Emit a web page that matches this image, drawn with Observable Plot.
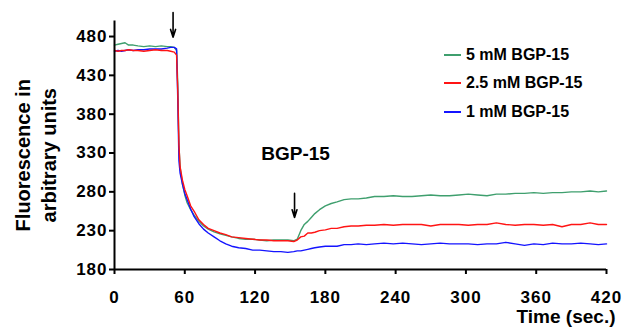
<!DOCTYPE html>
<html><head><meta charset="utf-8">
<script src="https://cdn.jsdelivr.net/npm/d3@7"></script>
<script src="https://cdn.jsdelivr.net/npm/@observablehq/plot@0.6"></script>
<style>
body{margin:0;background:#fff;}
#wrap{position:relative;width:625px;height:331px;font-family:"Liberation Sans",Arial,sans-serif;color:#000;}
.leg{position:absolute;left:444px;font-weight:bold;font-size:16px;display:flex;align-items:center;height:20px;white-space:nowrap;}
.leg .sw{display:inline-block;width:17px;height:2px;margin-right:5px;}
svg g[aria-label="y-axis tick label"] text, svg g[aria-label="x-axis tick label"] text{letter-spacing:1px;}
</style></head><body><div id="wrap"></div>
<script>
const time = [0,3,6,9,12,16,20,25,30,35,40,45,48,51,53,54,55,56,58,60,62,65,68,72,76,80,85,90,95,100,106,112,118,124,130,136,142,148,153,156,159,162,165,168,171,175,180,185,190,196,202,208,215,222,230,238,246,254,262,270,278,286,294,302,310,318,326,334,342,350,358,366,374,382,390,398,406,413,420];
const green = [469,470,471,472,469,469,468,467,468,467,468,467,467,466,462,420,340,312,290,276,266,257,250,242,236,232,228.5,226,224,222,220,219,219,218,217,218,218,218,217,219,230,238,242,247,252,257,262,265,267,270,271,271,272,274,274,275,274,274,275,276,275,275,276,277,276,275,277,277,278,278,279,278,279,279,280,280,281,280,281];
const red = [462,461,462,462,463,462,462,461,462,463,462,462,461,460,456,410,340,312,295,283,275,262,255,244,238,233,230,227,225,222,221,220,219,218,218,217,217,217,216,218,222,223,227,227,228,230,231,233,233,235,236,236,237,237,238,237,238,238,238,236,238,238,238,237,238,238,240,238,237,238,238,237,238,235,238,238,240,238,238];
const blue = [461,462,461,462,463,462,463,463,464,464,464,465,466,466,464,400,320,304,290,278,270,258,248,239,232,227,222,217,213,210,208,207,205,205,204,203,203,202,203,204,204,205,206,207,208,209,210,210,210,212,212,213,212,213,214,213,214,213,212,213,214,213,213,213,212,213,213,215,213,211,213,212,214,213,213,214,213,212,213];
const seriesNames = ["5 mM BGP-15","2.5 mM BGP-15","1 mM BGP-15"];
const seriesColors = ["#3f9f6e","#ff1414","#1414ff"];
const xTicks = [0,60,120,180,240,300,360,420];
const yTicks = [180,230,280,330,380,430,480];
const arrowTime = [50,153.7];
const arrowFrom = [511,278];
const arrowTo = [479,247];
const bgpLabel = "BGP-15", bgpLabelT = 154.6, bgpLabelV = 329;
const xLabel = "Time (sec.)";
const yLabel = "Fluorescence in\narbitrary units";

const rows = [];
const drawOrder = [[0, green],[2, blue],[1, red]];
for (const [k, vals] of drawOrder) time.forEach((t,i)=>rows.push({t, v: vals[i], s: seriesNames[k]}));
const arrows = arrowTime.map((t,i)=>({t, from: arrowFrom[i], to: arrowTo[i]}));
const ff = '"Liberation Sans", Arial, sans-serif';

const chart = Plot.plot({
  width: 625, height: 331,
  marginLeft: 114, marginRight: 19, marginTop: 20.5, marginBottom: 62,
  x: {domain: [0,420]},
  y: {domain: [180,500]},
  color: {domain: seriesNames, range: seriesColors},
  style: {fontFamily: ff, fontWeight: "bold", background: "white", color: "black"},
  marks: [
    Plot.line(rows, {x: "t", y: "v", z: "s", stroke: "s", strokeWidth: 1.4}),
    Plot.ruleX([0], {strokeWidth: 2}),
    Plot.ruleY([180], {strokeWidth: 2}),
    Plot.axisX({ticks: xTicks, tickSize: 5, tickPadding: 16, strokeWidth: 2, fontSize: 17, fontWeight: "bold", label: null}),
    Plot.axisY({ticks: yTicks, tickSize: 5, tickPadding: 2, strokeWidth: 2, fontSize: 17, fontWeight: "bold", label: null}),
    Plot.arrow(arrows, {x1: "t", x2: "t", y1: "from", y2: "to", headLength: 9, headAngle: 35, strokeWidth: 1.6, stroke: "black", clip: false}),
    Plot.text([bgpLabel], {x: bgpLabelT, y: bgpLabelV, fontSize: 19, fontWeight: "bold", fill: "black"}),
    Plot.text([xLabel], {frameAnchor: "bottom-right", dx: 9, dy: 53, textAnchor: "end", fontSize: 19, fontWeight: "bold", fill: "black"}),
    Plot.text([yLabel], {frameAnchor: "left", textAnchor: "middle", lineAnchor: "middle", rotate: -90, dx: -80, dy: 10, fontSize: 20, lineHeight: 1.3, fontWeight: "bold", fill: "black"})
  ]
});
const wrap = document.getElementById("wrap");
wrap.appendChild(chart);
const legTops = [45, 73, 102];
seriesNames.forEach((n,i)=>{
  const d = document.createElement("div");
  d.className = "leg";
  d.style.top = legTops[i] + "px";
  d.innerHTML = `<span class="sw" style="background:${seriesColors[i]}"></span>${n}`;
  wrap.appendChild(d);
});
</script></body></html>
